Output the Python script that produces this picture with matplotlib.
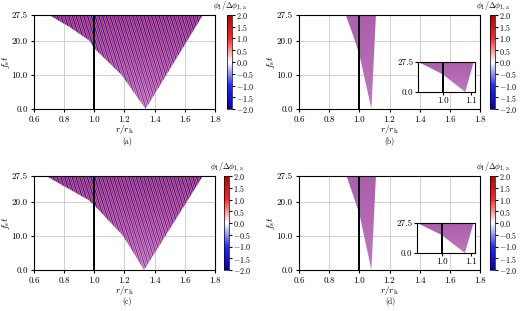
import numpy as np
import matplotlib.pyplot as plt
from matplotlib.patches import Polygon
from matplotlib.colors import LinearSegmentedColormap
from matplotlib.ticker import FormatStrFormatter

plt.rcParams['font.family'] = 'serif'
plt.rcParams['font.serif'] = ['cmr10', 'DejaVu Serif']
plt.rcParams['mathtext.fontset'] = 'cm'
plt.rcParams['axes.formatter.use_mathtext'] = True
plt.rcParams['font.size'] = 6.5

# wedge outlines: (r/r_h, f_s t), left edge top->apex, then right edge top
wedge_a_r = [0.70, 0.835, 0.967, 1.00, 1.18, 1.34, 1.72]
wedge_a_t = [27.5, 24.0, 20.0, 17.7, 10.0, 0.0, 27.5]
wedge_b_r = [0.91, 0.955, 1.00, 1.08, 1.11]
wedge_b_t = [27.5, 22.0, 16.0, 0.0, 27.5]
wedge_c_r = [0.68, 0.82, 0.96, 1.00, 1.19, 1.33, 1.72]
wedge_c_t = [27.5, 24.0, 20.5, 18.9, 10.0, 0.0, 27.5]
wedge_d_r = [0.915, 0.958, 1.00, 1.08, 1.11]
wedge_d_t = [27.5, 22.0, 16.5, 0.0, 27.5]

# stripe look: wavelength in r, slant dr/dt, amplitude at top / bottom
stripe_a = [0.025, 0.007, 2.0, 1.0]
stripe_b = [0.008, 0.006, 1.25, 0.95]
stripe_c = [0.025, 0.007, 2.0, 1.0]
stripe_d = [0.008, 0.006, 1.25, 0.95]

xticks = [0.6, 0.8, 1.0, 1.2, 1.4, 1.6, 1.8]
yticks = [0.0, 10.0, 20.0, 27.5]
cticks = [-2.0, -1.5, -1.0, -0.5, 0.0, 0.5, 1.0, 1.5, 2.0]
inset_xticks = [1.0, 1.1]
inset_yticks = [0.0, 27.5]
captions = ['(a)', '(b)', '(c)', '(d)']

cmap = LinearSegmentedColormap.from_list(
    'bwr_dark', [(0, 0, 0.72), (0.15, 0.15, 1), (1, 1, 1), (1, 0.15, 0.15), (0.72, 0, 0)])

W, H = 520, 311
fig = plt.figure(figsize=(W / 100, H / 100), dpi=100)


def px(x0, y0, x1, y1):
    return [x0 / W, 1 - y1 / H, (x1 - x0) / W, (y1 - y0) / H]


r_img = np.linspace(0.6, 1.8, 2400)
t_img = np.linspace(0, 27.5, 550)
R, T = np.meshgrid(r_img, t_img)


def stripes(lam, slant, amp_top, amp_bot):
    amp = amp_bot + (amp_top - amp_bot) * T / 27.5
    return amp * np.sin(2 * np.pi * (R + slant * T) / lam)


def draw_field(ax, Z, wr, wt):
    im = ax.imshow(Z, extent=[0.6, 1.8, 0, 27.5], origin='lower', aspect='auto',
                   cmap=cmap, vmin=-2, vmax=2, interpolation='antialiased', zorder=1)
    poly = Polygon(list(zip(wr, wt)), closed=True, transform=ax.transData,
                   facecolor='none', edgecolor='none')
    ax.add_patch(poly)
    im.set_clip_path(poly)
    ax.axvline(1.0, color='k', lw=1.4, zorder=3)
    return im


panels = [
    (wedge_a_r, wedge_a_t, stripe_a, (34, 15, 215, 109), (227, 15, 232, 109), None, (127, 141)),
    (wedge_b_r, wedge_b_t, stripe_b, (299, 15, 480, 109), (490, 15, 495, 109), (418, 62, 475, 92), (389, 141)),
    (wedge_c_r, wedge_c_t, stripe_c, (34, 176, 215, 270), (224, 176, 229, 270), None, (127, 301)),
    (wedge_d_r, wedge_d_t, stripe_d, (299, 176, 480, 270), (490, 176, 495, 270), (417, 223, 475, 253), (390, 301)),
]

for (wr, wt, st, apos, cpos, ipos, cap), label in zip(panels, captions):
    Z = stripes(*st)
    ax = fig.add_axes(px(*apos))
    ax.set_axisbelow(True)
    ax.grid(True, color='#c8c8c8', lw=0.6)
    im = draw_field(ax, Z, wr, wt)
    ax.set_xlim(0.6, 1.8)
    ax.set_ylim(0, 27.5)
    ax.set_xticks(xticks)
    ax.set_yticks(yticks)
    ax.xaxis.set_major_formatter(FormatStrFormatter('%.1f'))
    ax.yaxis.set_major_formatter(FormatStrFormatter('%.1f'))
    ax.set_xlabel(r'$r/r_{\mathrm{h}}$', fontsize=6.8, labelpad=-0.8)
    ax.set_ylabel(r'$f_{\mathrm{s}}t$', fontsize=7, labelpad=0)
    ax.tick_params(length=2.5, pad=2)

    cax = fig.add_axes(px(*cpos))
    cb = fig.colorbar(im, cax=cax, ticks=cticks)
    cb.ax.tick_params(length=2, pad=1, labelsize=5.8)
    cb.outline.set_linewidth(0.5)
    cax.set_title(r'$\phi_1/\Delta\phi_{1,\mathrm{a}}$', fontsize=5.8, pad=4.5)

    if ipos is not None:
        iax = fig.add_axes(px(*ipos))
        draw_field(iax, Z, wr, wt)
        iax.set_xlim(min(wr), max(wr) + 0.005)
        iax.set_ylim(0, 27.5)
        iax.set_xticks(inset_xticks)
        iax.set_yticks(inset_yticks)
        iax.xaxis.set_major_formatter(FormatStrFormatter('%.1f'))
        iax.yaxis.set_major_formatter(FormatStrFormatter('%.1f'))
        iax.tick_params(length=2, pad=1.5, labelsize=6.5)
        iax.set_facecolor('white')

    fig.text(cap[0] / W, 1 - cap[1] / H, label, ha='center', va='center', fontsize=5.5)

fig.savefig('out.png', dpi=100)
